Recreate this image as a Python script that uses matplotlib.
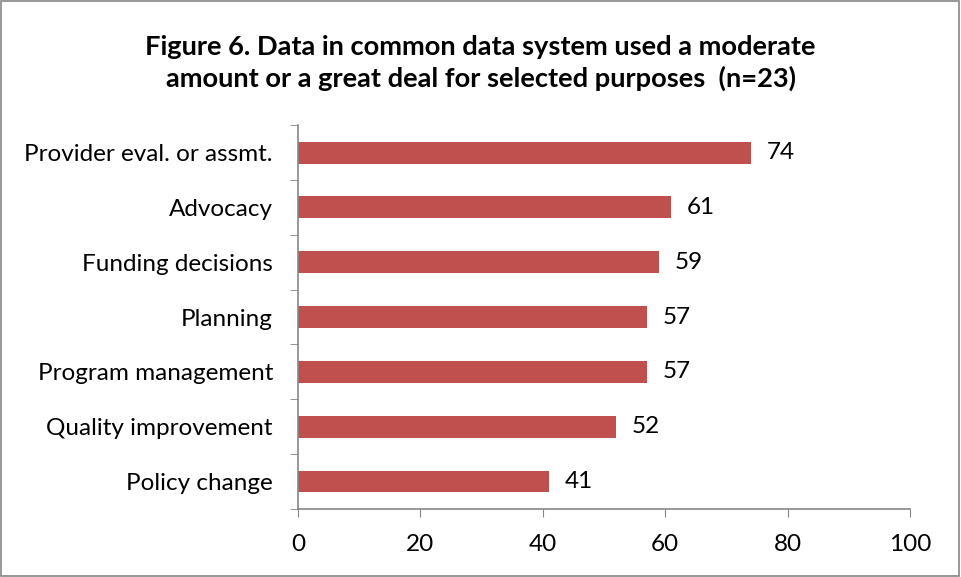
import numpy as np
import matplotlib
matplotlib.use("Agg")
import matplotlib.pyplot as plt
from matplotlib.patches import Rectangle

plt.rcParams['font.family'] = ['Lato', 'DejaVu Sans']

# data, bottom to top as drawn
purposes = ['Policy change', 'Quality improvement', 'Program management',
            'Planning', 'Funding decisions', 'Advocacy',
            'Provider eval. or assmt.']
percent = [41, 52, 57, 57, 59, 61, 74]

bar_color = '#C0504D'
axis_color = '#868686'

fig = plt.figure(figsize=(9.61, 5.77), dpi=100)
ax = fig.add_axes([0.310, 0.118, 0.637, 0.665])

y = np.arange(len(purposes))
ax.barh(y, percent, height=0.4, color=bar_color)

for yi, v in zip(y, percent):
    ax.text(v + 2.6, yi, str(v), va='center', ha='left', fontsize=17.5)

ax.set_xlim(0, 100)
ax.set_ylim(-0.5, len(purposes) - 0.5)
ax.set_xticks(range(0, 101, 20))
ax.set_yticks(y)
ax.set_yticklabels(purposes)
ax.set_yticks(np.arange(-0.5, len(purposes)), minor=True)

ax.tick_params(axis='x', length=6, color=axis_color, labelsize=17.5, pad=12)
ax.tick_params(axis='y', which='major', length=0, labelsize=17.5, pad=18)
ax.tick_params(axis='y', which='minor', length=6, color=axis_color)

for s in ['top', 'right']:
    ax.spines[s].set_visible(False)
for s in ['left', 'bottom']:
    ax.spines[s].set_color(axis_color)
    ax.spines[s].set_linewidth(1.2)

fig.text(0.5, 0.891, 'Figure 6. Data in common data system used a moderate\n'
         'amount or a great deal for selected purposes  (n=23)',
         ha='center', va='center', fontsize=19.6, fontweight='bold',
         linespacing=1.35)

# outer chart border
fig.patches.append(Rectangle((0.001, 0.002), 0.997, 0.996, transform=fig.transFigure,
                             fill=False, edgecolor=axis_color, linewidth=1.2))

fig.savefig('out.png', dpi=100)
